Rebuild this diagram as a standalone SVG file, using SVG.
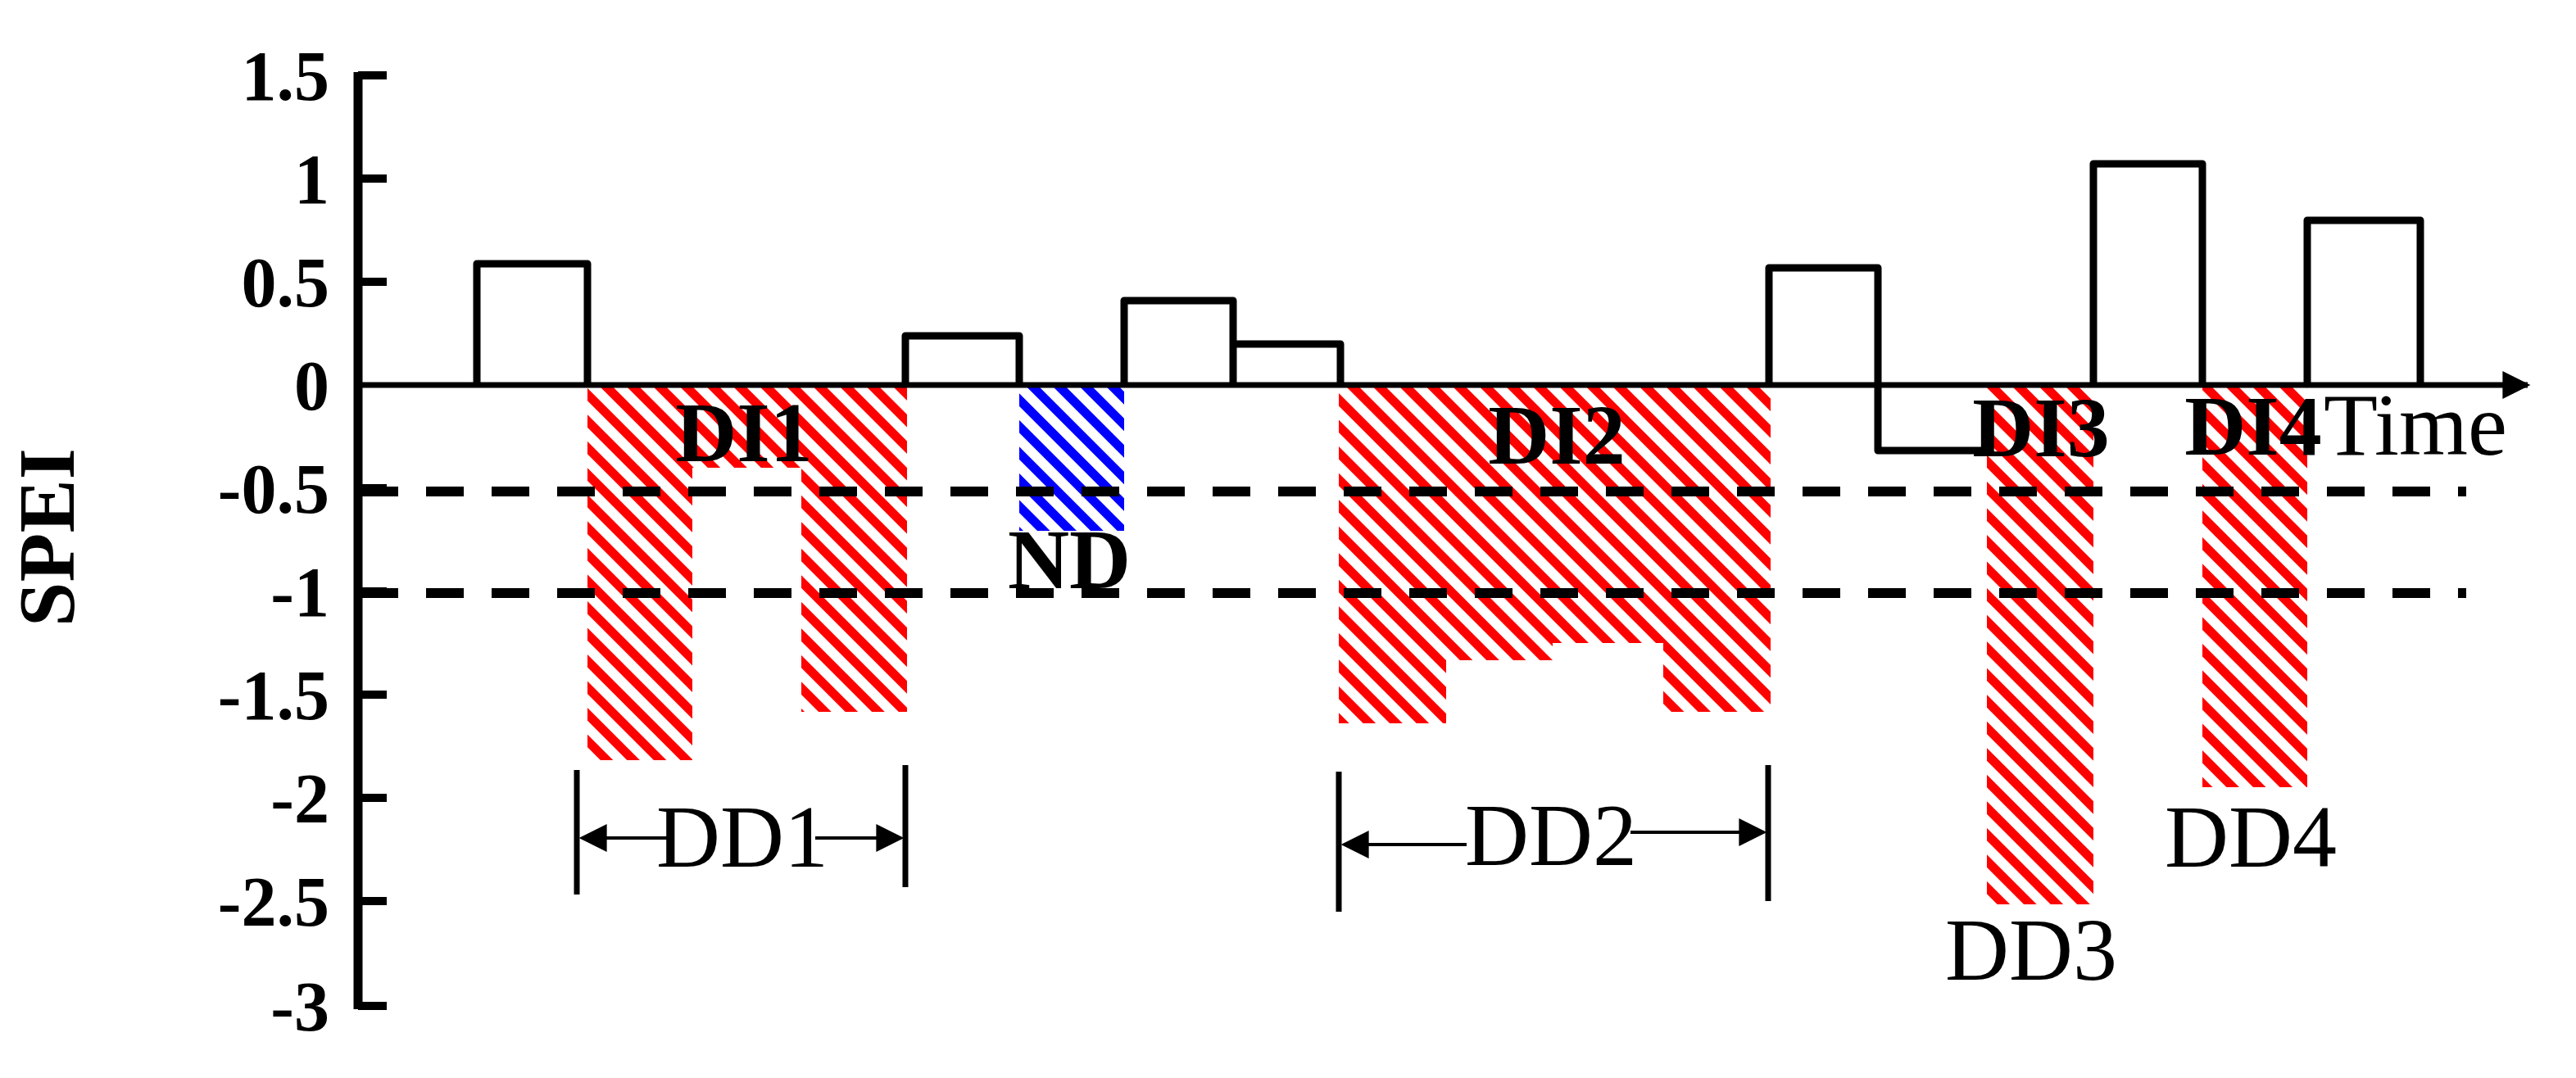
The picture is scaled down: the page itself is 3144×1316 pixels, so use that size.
<svg xmlns="http://www.w3.org/2000/svg" width="3144" height="1316" viewBox="0 0 3144 1316">
<style>
.ax{stroke:#000;stroke-width:11;fill:none}
.bar{stroke:#000;stroke-width:9;fill:none;stroke-linejoin:round}
.dash{stroke:#000;stroke-width:12;stroke-dasharray:46 34;fill:none}
.tl{font-family:"Liberation Serif",serif;font-weight:bold;font-size:86px;text-anchor:end}
.lb{font-family:"Liberation Serif",serif;font-weight:bold;font-size:104px;text-anchor:middle}
.dd{font-family:"Liberation Serif",serif;font-size:108px;text-anchor:middle}
.br{stroke:#000;stroke-width:7;fill:none}
.ar{stroke:#000;stroke-width:4;fill:none}
</style>
<defs>
<pattern id="hr" patternUnits="userSpaceOnUse" width="23" height="23" patternTransform="rotate(-45)"><rect width="11" height="23" fill="#ff0000"/></pattern>
<pattern id="hb" patternUnits="userSpaceOnUse" width="23" height="23" patternTransform="rotate(-45)"><rect width="11" height="23" fill="#0000ff"/></pattern>
<marker id="aa" viewBox="0 0 10 10" refX="9" refY="5" markerWidth="40" markerHeight="34" markerUnits="userSpaceOnUse" orient="auto-start-reverse"><path d="M0,0 L10,5 L0,10 z" fill="#000"/></marker>
</defs>
<g id="hatch">
<polygon fill="url(#hr)" points="717,470 1107,470 1107,869 978,869 978,571 845,571 845,928 717,928"/>
<rect fill="url(#hb)" x="1244" y="470" width="128" height="178"/>
<polygon fill="url(#hr)" points="1634,470 2161,470 2161,869 2030,869 2030,785 1895,785 1895,806 1765,806 1765,883 1634,883"/>
<rect fill="url(#hr)" x="2425" y="470" width="130" height="634"/>
<rect fill="url(#hr)" x="2688" y="470" width="128" height="491"/>
</g>
<g id="thresholds">
<line class="dash" x1="440" y1="600" x2="3010" y2="600"/>
<line class="dash" x1="440" y1="724" x2="3010" y2="724"/>
</g>
<g id="bars">
<polyline class="bar" points="582,470 582,322 717,322 717,470"/>
<polyline class="bar" points="1105,470 1105,410 1244,410 1244,470"/>
<polyline class="bar" points="1372,470 1372,367 1505,367 1505,470"/>
<polyline class="bar" points="1505,420 1636,420 1636,470"/>
<polyline class="bar" points="2159,470 2159,327 2292,327 2292,550 2422,550"/>
<polyline class="bar" points="2555,470 2555,200 2688,200 2688,470"/>
<polyline class="bar" points="2816,470 2816,269 2954,269 2954,470"/>
</g>
<g id="axes">
<line class="ax" x1="437" y1="88" x2="437" y2="1232"/>
<g stroke="#000" stroke-width="10">
<line x1="437" y1="92" x2="472" y2="92"/><line x1="437" y1="218" x2="472" y2="218"/>
<line x1="437" y1="344" x2="472" y2="344"/><line x1="437" y1="596" x2="472" y2="596"/>
<line x1="437" y1="722" x2="472" y2="722"/><line x1="437" y1="848" x2="472" y2="848"/>
<line x1="437" y1="974" x2="472" y2="974"/><line x1="437" y1="1100" x2="472" y2="1100"/>
<line x1="437" y1="1228" x2="472" y2="1228"/>
</g>
<line x1="437" y1="470" x2="3085" y2="470" stroke="#000" stroke-width="7" marker-end="url(#aa)"/>
</g>
<g id="ticklabels">
<text class="tl" x="402" y="122">1.5</text>
<text class="tl" x="402" y="248">1</text>
<text class="tl" x="402" y="374">0.5</text>
<text class="tl" x="402" y="500">0</text>
<text class="tl" x="402" y="626">-0.5</text>
<text class="tl" x="402" y="752">-1</text>
<text class="tl" x="402" y="878">-1.5</text>
<text class="tl" x="402" y="1004">-2</text>
<text class="tl" x="402" y="1130">-2.5</text>
<text class="tl" x="402" y="1258">-3</text>
<text font-family="Liberation Serif,serif" font-weight="bold" font-size="98" text-anchor="middle" transform="translate(90,656) rotate(-90)">SPEI</text>
</g>
<g id="connectors">
<line class="br" x1="704" y1="940" x2="704" y2="1092"/>
<line class="br" x1="1105" y1="934" x2="1105" y2="1083"/>
<line class="ar" x1="820" y1="1023" x2="710" y2="1023" marker-end="url(#aa)"/>
<line class="ar" x1="995" y1="1023" x2="1100" y2="1023" marker-end="url(#aa)"/>
<line class="br" x1="1634" y1="942" x2="1634" y2="1113"/>
<line class="br" x1="2158" y1="934" x2="2158" y2="1100"/>
<line class="ar" x1="1790" y1="1031" x2="1640" y2="1031" marker-end="url(#aa)"/>
<line class="ar" x1="1990" y1="1016" x2="2153" y2="1016" marker-end="url(#aa)"/>
</g>
<g id="labels">
<text class="lb" x="908" y="563">DI1</text>
<text class="lb" x="1305" y="718">ND</text>
<text class="lb" x="1900" y="566">DI2</text>
<text class="lb" x="2491" y="557">DI3</text>
<text class="lb" x="2750" y="555">DI4</text>
<text class="dd" x="2948" y="555">Time</text>
<text class="dd" x="906" y="1058">DD1</text>
<text class="dd" x="1893" y="1056">DD2</text>
<text class="dd" x="2479" y="1196">DD3</text>
<text class="dd" x="2747" y="1058">DD4</text>
</g>
</svg>
